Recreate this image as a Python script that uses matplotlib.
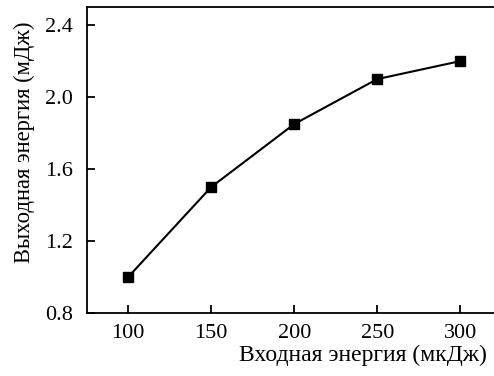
import matplotlib
matplotlib.use("Agg")
import matplotlib.pyplot as plt

# Data
input_energy = [100, 150, 200, 250, 300]      # мкДж
output_energy = [1.0, 1.5, 1.85, 2.1, 2.2]    # мДж
x_ticks = [100, 150, 200, 250, 300]
y_ticks = [0.8, 1.2, 1.6, 2.0, 2.4]

plt.rcParams['font.family'] = ['Liberation Serif', 'DejaVu Serif']

fig = plt.figure(figsize=(4.94, 3.76), dpi=100)
ax = fig.add_axes([0.1755, 0.1676, 0.83, 0.8134])

ax.plot(input_energy, output_energy, color='black', linewidth=1.5,
        marker='s', markersize=6.5)

ax.set_xlim(75, 322)
ax.set_ylim(0.8, 2.5)
ax.set_xticks(x_ticks)
ax.set_yticks(y_ticks)
ax.set_yticklabels([f"{v:.1f}" for v in y_ticks])

ax.tick_params(direction='in', length=6, width=1.3, labelsize=16)
ax.tick_params(axis='y', pad=10)
ax.tick_params(axis='x', pad=8)
ax.spines['right'].set_visible(False)
for s in ['left', 'top', 'bottom']:
    ax.spines[s].set_linewidth(1.3)

# axis titles placed in figure coordinates
fig.text(363 / 494, 1 - 355 / 376, 'Входная энергия (мкДж)', fontsize=17,
         ha='center', va='center')
fig.text(24 / 494, 1 - 142 / 376, 'Выходная энергия (мДж)', fontsize=16.3,
         ha='center', va='center', rotation=90)

fig.savefig('out.png', dpi=100)
